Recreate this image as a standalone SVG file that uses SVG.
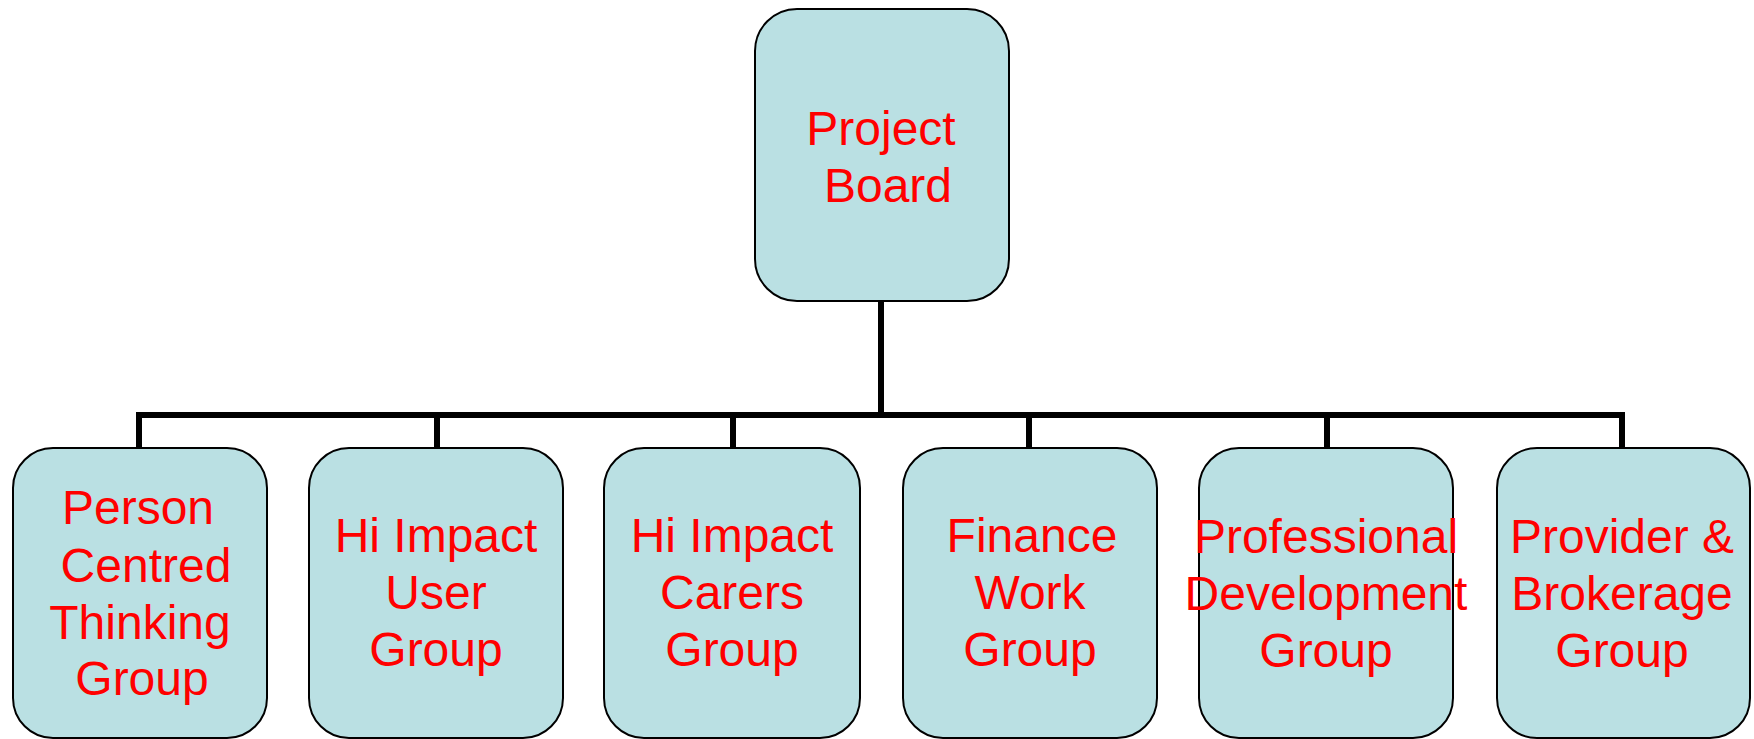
<svg xmlns="http://www.w3.org/2000/svg" width="1754" height="739" viewBox="0 0 1754 739">
<style>
.box{fill:#BAE0E3;stroke:#000;stroke-width:2}
.lbl{font-family:"Liberation Sans",Arial,sans-serif;font-size:48px;fill:#FF0000;text-anchor:middle}
.conn{fill:none;stroke:#000;stroke-width:6}
</style>
<rect width="1754" height="739" fill="#fff"/>
<g id="connectors">
<line class="conn" x1="881" y1="301" x2="881" y2="415"/>
<polyline class="conn" points="139,448 139,415 1622,415 1622,448"/>
<line class="conn" x1="437" y1="415" x2="437" y2="448"/>
<line class="conn" x1="733" y1="415" x2="733" y2="448"/>
<line class="conn" x1="1029" y1="415" x2="1029" y2="448"/>
<line class="conn" x1="1327" y1="415" x2="1327" y2="448"/>
</g>
<g id="project-board">
<rect class="box" x="755" y="9" width="254" height="292" rx="42"/>
<text class="lbl"><tspan x="881" y="145">Project</tspan><tspan x="888" y="202">Board</tspan></text>
</g>
<g id="person-centred">
<rect class="box" x="13" y="448" width="254" height="290" rx="40"/>
<text class="lbl"><tspan x="138" y="524">Person</tspan><tspan x="146" y="582">Centred</tspan><tspan x="140" y="639">Thinking</tspan><tspan x="142" y="695">Group</tspan></text>
</g>
<g id="hi-impact-user">
<rect class="box" x="309" y="448" width="254" height="290" rx="40"/>
<text class="lbl"><tspan x="436" y="552">Hi Impact</tspan><tspan x="436" y="609">User</tspan><tspan x="436" y="666">Group</tspan></text>
</g>
<g id="hi-impact-carers">
<rect class="box" x="604" y="448" width="256" height="290" rx="40"/>
<text class="lbl"><tspan x="732" y="552">Hi Impact</tspan><tspan x="732" y="609">Carers</tspan><tspan x="732" y="666">Group</tspan></text>
</g>
<g id="finance-work">
<rect class="box" x="903" y="448" width="254" height="290" rx="40"/>
<text class="lbl"><tspan x="1032" y="552">Finance</tspan><tspan x="1030" y="609">Work</tspan><tspan x="1030" y="666">Group</tspan></text>
</g>
<g id="professional-development">
<rect class="box" x="1199" y="448" width="254" height="290" rx="40"/>
<text class="lbl"><tspan x="1326" y="553">Professional</tspan><tspan x="1326" y="610">Development</tspan><tspan x="1326" y="667">Group</tspan></text>
</g>
<g id="provider-brokerage">
<rect class="box" x="1497" y="448" width="253" height="290" rx="40"/>
<text class="lbl"><tspan x="1622" y="553">Provider &amp;</tspan><tspan x="1622" y="610">Brokerage</tspan><tspan x="1622" y="667">Group</tspan></text>
</g>
</svg>
